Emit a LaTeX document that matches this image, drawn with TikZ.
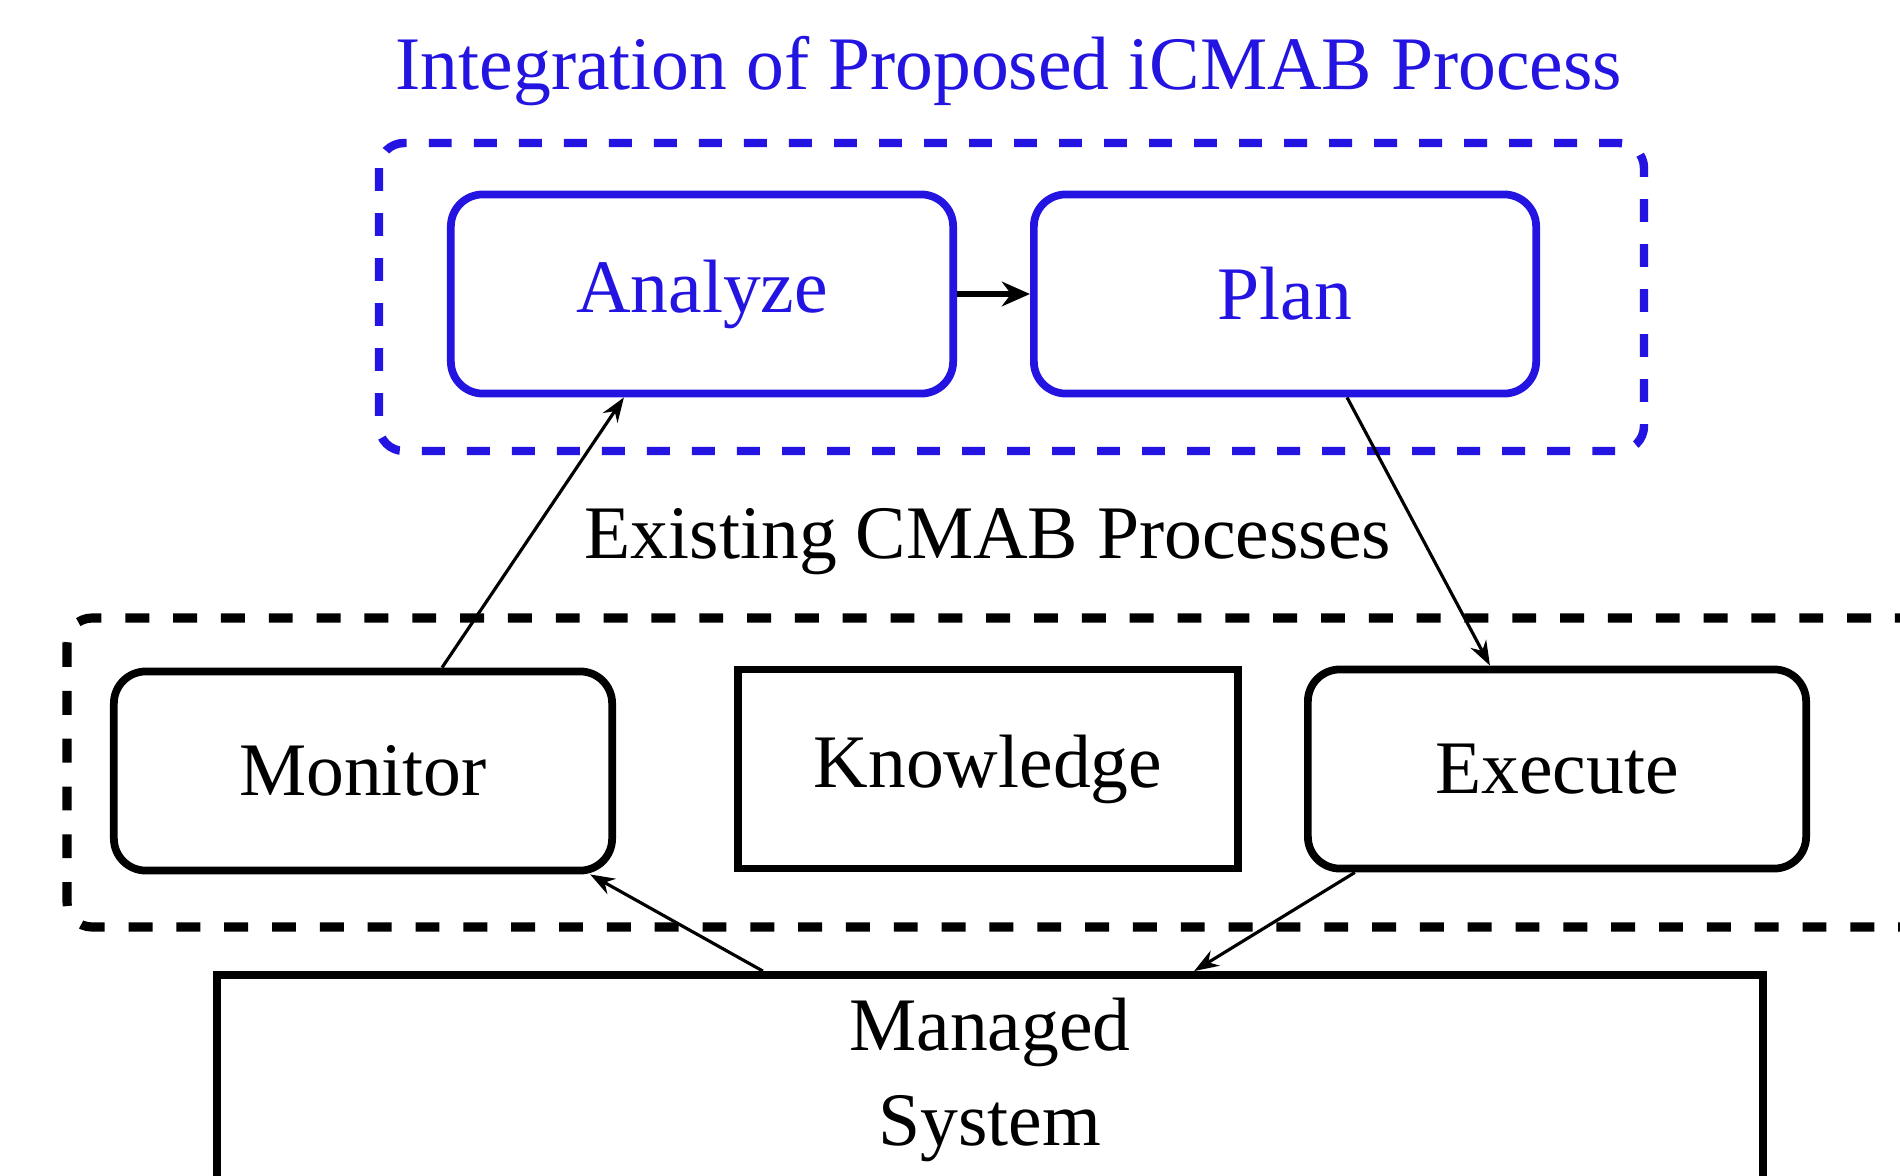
\documentclass[tikz,border=0pt]{standalone}
\usepackage{fontspec}
\setmainfont{Liberation Serif}
\usetikzlibrary{arrows.meta,calc}
\definecolor{myblue}{RGB}{35,20,225}
\begin{document}
\begin{tikzpicture}[x=0.01cm,y=-0.01cm,
  txt/.style={font=\fontsize{21.5}{26}\selectfont, inner sep=0pt},
  bluebox/.style={draw=myblue, line width=2.2pt, rounded corners=0.32cm, text=myblue,
     minimum width=5.02cm, minimum height=1.99cm, font=\fontsize{21.5}{26}\selectfont},
  blackbox/.style={draw=black, line width=2.2pt, rounded corners=0.32cm,
     minimum width=4.98cm, minimum height=1.99cm, font=\fontsize{21.5}{26}\selectfont},
  squarebox/.style={draw=black, line width=2.2pt,
     minimum width=5.0cm, minimum height=1.99cm, font=\fontsize{21.5}{26}\selectfont},
  bluedash/.style={draw=myblue, line width=2.4pt, dash pattern=on 6.5pt off 6.3pt, rounded corners=0.25cm},
  blackdash/.style={draw=black, line width=2.6pt, dash pattern=on 6.8pt off 6.8pt, rounded corners=0.25cm},
  conn/.style={draw=black, line width=0.9pt, -{Stealth[length=7pt,width=5pt]}}
]
\clip (0,0) rectangle (1900,1176);
\fill[white] (0,0) rectangle (1900,1176);

% title
\node[txt, text=myblue] (title) at (1009,71) {Integration of Proposed iCMAB Process};

% blue dashed group
\draw[bluedash] (379,143) rectangle (1644,451);

\node[bluebox] (ana) at (702,294) {Analyze};
\node[bluebox] (plan) at (1285,294) {Plan};

\draw[draw=black, line width=1.5pt, -{Stealth[length=8pt,width=7pt]}] (ana.east) -- (plan.west);

% existing label
\node[txt] (exist) at (988,542) {Existing CMAB Processes};

% black dashed group
\draw[blackdash] (67,618) rectangle (1980,927);

\node[blackbox] (mon) at (363,771) {Monitor};
\node[squarebox] (know) at (988,769) {\raisebox{4pt}{Knowledge}};
\node[blackbox] (exe) at (1557,769) {Execute};

% managed system
\node[draw=black, line width=2.2pt, minimum width=15.45cm, minimum height=2.1cm,
      align=center, font=\fontsize{21.5}{25}\selectfont, inner sep=0pt] (ms) at (990,1080) {Managed\\[2pt]System};

% connectors
\draw[conn] ([xshift=0.79cm]mon.north) -- ([xshift=-0.78cm]ana.south);
\draw[conn] ([xshift=0.62cm]plan.south) -- ([xshift=-0.67cm]exe.north);
\draw[conn] ([xshift=-2.27cm]ms.north) -- ([xshift=2.27cm]mon.south);
\draw[conn] ([xshift=-2.02cm]exe.south) -- ([xshift=2.04cm]ms.north);
\end{tikzpicture}
\end{document}
